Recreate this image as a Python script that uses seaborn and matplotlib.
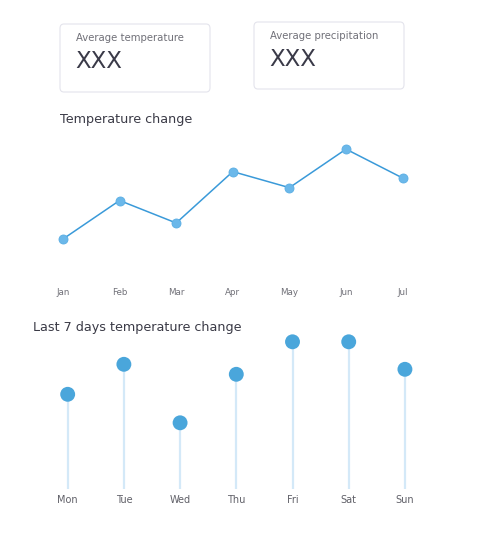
import numpy as np
import pandas as pd
import matplotlib.pyplot as plt
import seaborn as sns
from matplotlib.patches import FancyBboxPatch


months = ['Jan', 'Feb', 'Mar', 'Apr', 'May', 'Jun', 'Jul']
month_temps = [10, 22, 15, 31, 26, 38, 29]

days = ['Mon', 'Tue', 'Wed', 'Thu', 'Fri', 'Sat', 'Sun']
day_temps = [19, 25, 13.3, 23, 29.5, 29.5, 24]

cards = ['Average temperature', 'Average precipitation']
card_values = ['XXX', 'XXX']

W, H = 486, 540


def fx(px):
    return px / W


def fy(py):
    return 1 - py / H


sns.set_theme(style='white')
plt.rcParams['font.family'] = ['DejaVu Sans']

fig = plt.figure(figsize=(4.86, 5.40), dpi=100)

# summary cards
card_boxes = [(60, 24, 150, 68), (254, 22, 150, 67)]
for (x, y, w, h), label, value in zip(card_boxes, cards, card_values):
    box = FancyBboxPatch((fx(x), fy(y + h)), fx(w), h / H,
                         boxstyle='round,pad=0,rounding_size=0.008',
                         transform=fig.transFigure, facecolor='white',
                         edgecolor='#e4e4ec', linewidth=0.8)
    fig.patches.append(box)
    fig.text(fx(x + 16), fy(y + 14), label, fontsize=7.3, color='#707078', va='center')
    fig.text(fx(x + 15), fy(y + 37), value, fontsize=16.5, color='#3a3a48', va='center')

# line chart
fig.text(fx(60), fy(119), 'Temperature change', fontsize=9.2, color='#3a3a46', va='center')
ax1 = fig.add_axes([fx(48.8), fy(284), fx(368), 149 / H])
df1 = pd.DataFrame({'month': months, 'temp': month_temps})
sns.lineplot(data=df1, x='month', y='temp', ax=ax1, color='#3a9ad9', linewidth=1.1,
             marker='o', markersize=6.5, markerfacecolor='#6bb8ea',
             markeredgecolor='#5aaee4', markeredgewidth=0.6, sort=False)
ax1.set_xlim(-0.25, 6.25)
ax1.set_ylim(-4, 42.4)
ax1.set_xlabel('')
ax1.set_ylabel('')
ax1.set_yticks([])
ax1.tick_params(axis='x', length=0, pad=3, labelsize=6.3, labelcolor='#707078')
sns.despine(ax=ax1, left=True, bottom=True)

# lollipop chart
fig.text(fx(33), fy(327), 'Last 7 days temperature change', fontsize=9.2, color='#3a3a46', va='center')
ax2 = fig.add_axes([fx(48), fy(489.3), fx(376.6), 154.3 / H])
df2 = pd.DataFrame({'day': days, 'temp': day_temps})
ax2.vlines(range(len(days)), 0, df2['temp'], color='#d4e9f8', linewidth=1.6, zorder=1)
sns.scatterplot(data=df2, x='day', y='temp', ax=ax2, s=115, color='#4aa6db',
                edgecolor='none', zorder=2, clip_on=False)
ax2.set_xlim(-0.35, 6.35)
ax2.set_ylim(0, 30.86)
ax2.set_xlabel('')
ax2.set_ylabel('')
ax2.set_yticks([])
ax2.tick_params(axis='x', length=0, pad=4, labelsize=7, labelcolor='#606068')
sns.despine(ax=ax2, left=True, bottom=True)

fig.savefig('out.png', dpi=100, facecolor='white')
